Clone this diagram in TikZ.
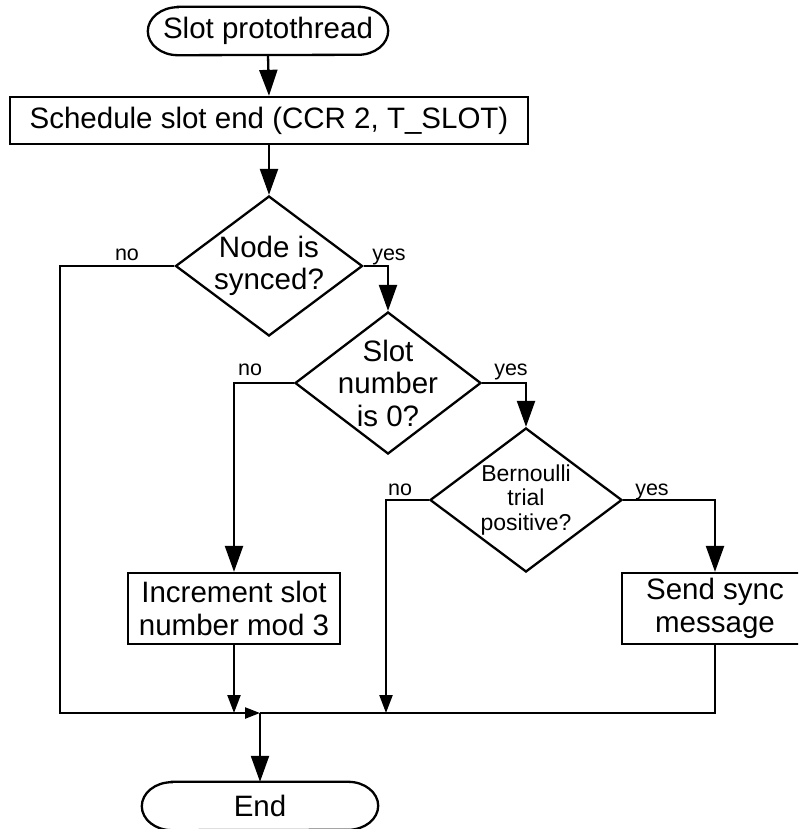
\documentclass[tikz,border=0pt]{standalone}
\usepackage{fontspec}
\setmainfont{Liberation Sans}
\usetikzlibrary{arrows.meta,shapes.geometric}

\newcommand{\mainfs}{\fontsize{29.5pt}{32.5pt}\selectfont}
\newcommand{\smallfs}{\fontsize{23pt}{24.5pt}\selectfont}
\newcommand{\lblfs}{\fontsize{21.5pt}{24pt}\selectfont}

\tikzset{
  line/.style={line width=2.3pt},
  flow/.style={line, -{Triangle[length=26pt,width=18pt]}},
  flowsm/.style={line, -{Triangle[length=18pt,width=13pt]}},
  flowxs/.style={line, -{Triangle[length=15pt,width=11pt]}},
  box/.style={draw, line width=2.3pt, rectangle, inner sep=0pt, align=center, font=\mainfs},
  decision/.style={draw, diamond, line width=2.3pt, inner sep=0pt},
  term/.style={rectangle, inner sep=0pt, font=\mainfs},
  lbl/.style={font=\lblfs, inner sep=0pt, anchor=base},
}

% terminator outline: flat top and bottom, elliptic ends
\newcommand{\termoutline}[1]{%
  \draw[line] ([xshift=30pt]#1.north west) -- ([xshift=-30pt]#1.north east)
    arc[start angle=90, end angle=-90, x radius=30pt, y radius=24pt]
    -- ([xshift=30pt]#1.south west)
    arc[start angle=270, end angle=90, x radius=30pt, y radius=24pt] -- cycle;}

\begin{document}
\begin{tikzpicture}[x=1pt,y=-1pt]
  \clip (0,0) rectangle (798,829);
  \fill[white] (0,0) rectangle (798,829);

  % nodes
  \node[term, minimum width=240pt, minimum height=48pt] (start) at (268,31) {Slot protothread};
  \termoutline{start}

  \node[box, minimum width=518pt, minimum height=47pt] (sched) at (269,120.5)
    {Schedule slot end (CCR 2, T\_SLOT)};

  \node[decision, minimum width=187pt, minimum height=140pt,
        label={[font=\mainfs, align=center, inner sep=0pt]center:{Node is\\synced?}}]
        (d1) at (269,266) {};

  \node[decision, minimum width=186pt, minimum height=142pt,
        label={[font=\mainfs, align=center, inner sep=0pt]center:{Slot\\number\\is 0?}}]
        (d2) at (388,383) {};

  \node[decision, minimum width=192pt, minimum height=144pt,
        label={[font=\smallfs, align=center, inner sep=0pt]center:{Bernoulli\\trial\\positive?}}]
        (d3) at (526,500) {};

  \node[box, minimum width=212pt, minimum height=71pt] (inc) at (234,608.5)
    {Increment slot\\number mod 3};

  \node[box, minimum width=186pt, minimum height=71pt] (send) at (715,608.5)
    {Send sync\\message};

  \node[term, minimum width=236pt, minimum height=48pt] (stop) at (260,806) {End};
  \termoutline{stop}

  % junction points on the collecting line
  \coordinate (leftrail) at (60,713);
  \coordinate (join) at (260,713);
  \coordinate (midrail) at (386,713);
  \coordinate (rightrail) at (716,713);

  % connectors
  \draw[flow] (start.south) -- (sched.north);
  \draw[flow] (sched.south) -- (d1.north);
  \draw[flow] (d1.east) -| (d2.north);
  \draw[flow] (d2.east) -| (d3.north);
  \draw[flow] (d2.west) -| (inc.north);
  \draw[flow] (d3.east) -| (send.north);
  \draw[flowsm] (d3.west) -| (midrail);
  \draw[flowsm] (inc.south) -- (inc.south |- join);
  \draw[line] (send.south) |- (join);
  \draw[flowxs] (d1.west) -| (leftrail) -- (join);
  \draw[flow] (join) -- (stop.north);

  % branch labels
  \node[lbl] (no1) at (127,260) {no};
  \node[lbl] (yes1) at (389,260) {yes};
  \node[lbl] (no2) at (250,375) {no};
  \node[lbl] (yes2) at (511,375) {yes};
  \node[lbl] (no3) at (400,495) {no};
  \node[lbl] (yes3) at (652,495) {yes};
\end{tikzpicture}
\end{document}
